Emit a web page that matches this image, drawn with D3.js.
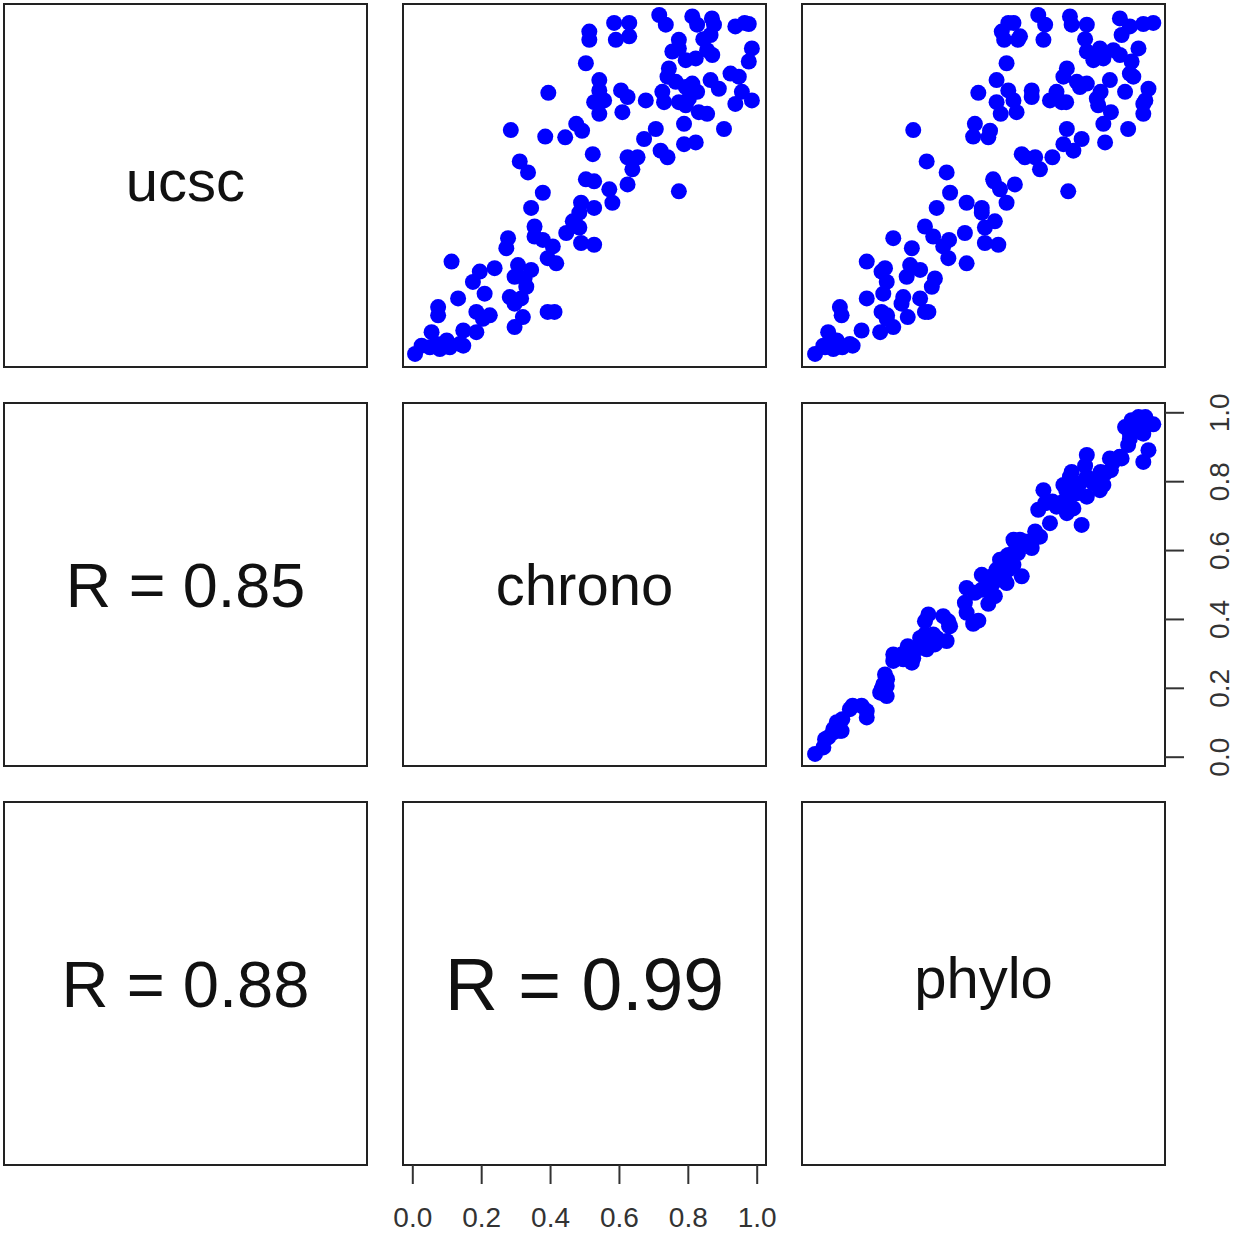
<!DOCTYPE html>
<html>
<head>
<meta charset="utf-8">
<script src="https://cdn.jsdelivr.net/npm/d3@7"></script>
<style>
  body { margin: 0; background: #fff; }
  text { font-family: "Liberation Sans", Arial, Helvetica, sans-serif; }
</style>
</head>
<body>
<div id="pairs"></div>
<script>
// pairs plot: 3 rank-scaled scores, scatter above diagonal, R below
const varNames = ["ucsc", "chrono", "phylo"];

const ucsc = [
  .995,.967,.991,.967,.967,.937,.962,.969,.947,.923,.972,.972,.923,.933,.855,.923,.889,.898,.864,.869,
  .893,.879,.898,.860,.840,.816,.801,.786,.796,.772,.806,.781,.825,.816,.772,.747,.737,.806,.776,.742,
  .747,.708,.776,.757,.713,.747,.772,.742,.742,.752,.733,.713,.708,.679,.659,.664,.679,.664,.635,.601,
  .582,.620,.625,.591,.582,.582,.547,.518,.512,.489,.503,.483,.450,.421,.435,.378,.333,.328,.769,.661,
  .642,.640,.570,.538,.479,.435,.450,.396,.381,.352,.362,.347,.318,.342,.323,.289,.274,.279,.250,.220,
  .260,.269,.235,.255,.230,.206,.186,.176,.157,.172,.172,.147,.123,.133,.123,.113,.133,.133,.118,.089,
  .074,.079,.074,.050,.040,.040,.011,.035,.030,.025,.030,.035,.925,.972,.985
];
const chrono = [
  .717,.736,.813,.827,.876,.866,.938,.977,.514,.514,.586,.630,.591,.630,.504,.774,.755,.774,.794,.823,
  .856,.871,.986,.977,.745,.741,.765,.794,.813,.827,.866,.890,.924,.948,.957,.986,.938,.543,.543,.528,
  .557,.543,.606,.625,.610,.678,.726,.731,.774,.803,.794,.832,.856,.476,.493,.707,.789,.905,.673,.721,
  .741,.789,.823,.524,.625,.654,.639,.504,.528,.572,.625,.774,.581,.485,.528,.485,.490,.528,.395,.286,
  .386,.444,.312,.336,.379,.345,.490,.466,.355,.355,.447,.278,.273,.379,.408,.393,.418,.114,.196,.176,
  .239,.307,.297,.345,.326,.331,.210,.283,.297,.316,.133,.075,.075,.186,.225,.205,.393,.413,.321,.297,
  .056,.148,.186,.100,.138,.071,.008,.027,.051,.080,.109,.148,.845,.965,.870
];
const phylo = [
  .659,.679,.751,.756,.800,.901,.925,.964,.553,.560,.572,.587,.600,.606,.567,.674,.800,.838,.819,.848,
  .877,.896,.950,.930,.742,.732,.771,.780,.800,.840,.867,.979,.925,.935,.911,.970,.964,.538,.572,.538,
  .587,.550,.640,.640,.596,.693,.712,.727,.740,.829,.833,.870,.964,.475,.519,.742,.848,.920,.785,.761,
  .700,.732,.853,.611,.620,.650,.664,.528,.530,.548,.591,.746,.567,.495,.495,.504,.504,.543,.485,.296,
  .470,.514,.335,.393,.403,.364,.451,.533,.330,.354,.446,.238,.292,.400,.383,.398,.451,.161,.204,.219,
  .214,.287,.277,.316,.359,.350,.209,.267,.262,.316,.161,.083,.088,.204,.220,.219,.330,.340,.280,.238,
  .049,.146,.200,.074,.112,.064,.011,.035,.040,.064,.090,.120,.795,.993,.896
];

// correlations printed in the lower panels
const corRows = [1, 2, 2];
const corCols = [0, 0, 1];
const corValues = [0.85, 0.88, 0.99];

const tickValues = [0, 0.2, 0.4, 0.6, 0.8, 1.0];

const series = [ucsc, chrono, phylo];
const W = 1236, H = 1235;
const origin = 4, step = 399, size = 363;

const svg = d3.select("#pairs").append("svg").attr("width", W).attr("height", H);

const x = d3.scaleLinear().domain([-0.027, 1.027]).range([0, size]);
const y = d3.scaleLinear().domain([-0.027, 1.027]).range([size, 0]);

// rough ink-centering, the way R puts the labels in the middle of the box
function inkDy(s) {
  const top = /[A-Zbdfhklt0-9]/.test(s) ? 0.72 : 0.52;
  const bottom = /[gjpqy]/.test(s) ? -0.21 : 0;
  return ((top + bottom) / 2).toFixed(3) + "em";
}

const cells = [];
for (let i = 0; i < 3; i++) for (let j = 0; j < 3; j++) cells.push({ i, j });

const panel = svg.selectAll("g.panel").data(cells).enter().append("g")
  .attr("class", "panel")
  .attr("transform", d => `translate(${origin + d.j * step},${origin + d.i * step})`);

// scatter above the diagonal: x = column variable, y = row variable
panel.filter(d => d.j > d.i).each(function(d) {
  const pts = series[d.j].map((v, k) => ({ xv: v, yv: series[d.i][k] }));
  d3.select(this).selectAll("circle").data(pts).enter().append("circle")
    .attr("cx", p => x(p.xv))
    .attr("cy", p => y(p.yv))
    .attr("r", 8)
    .attr("fill", "#0000ff");
});

// variable names on the diagonal
panel.filter(d => d.i === d.j).append("text")
  .attr("x", size / 2).attr("y", size / 2)
  .attr("dy", d => inkDy(varNames[d.i]))
  .attr("text-anchor", "middle")
  .attr("font-size", 58)
  .attr("fill", "#111")
  .text(d => varNames[d.i]);

// correlation text, size scaled by r
corValues.forEach((r, k) => {
  const label = "R = " + r.toFixed(2);
  svg.append("text")
    .attr("x", origin + corCols[k] * step + size / 2)
    .attr("y", origin + corRows[k] * step + size / 2)
    .attr("dy", inkDy(label))
    .attr("text-anchor", "middle")
    .attr("font-size", 74 * r)
    .attr("fill", "#111")
    .text(label);
});

// boxes on top
panel.append("rect")
  .attr("width", size).attr("height", size)
  .attr("fill", "none").attr("stroke", "#222").attr("stroke-width", 2);

// bottom axis under the chrono column
const gx = svg.append("g")
  .attr("transform", `translate(${origin + step},${origin + 2 * step + size})`)
  .call(d3.axisBottom(x).tickValues(tickValues).tickFormat(d3.format(".1f")).tickSize(19).tickPadding(23));
gx.select(".domain").remove();
gx.selectAll("line").attr("stroke", "#333").attr("stroke-width", 2);
gx.selectAll("text").attr("font-size", 28).attr("fill", "#333")
  .attr("font-family", "'Liberation Sans', Arial, sans-serif");

// right axis beside the chrono row, labels turned parallel to the axis
const gy = svg.append("g")
  .attr("transform", `translate(${origin + 2 * step + size},${origin + step})`)
  .call(d3.axisRight(y).tickValues(tickValues).tickFormat(d3.format(".1f")).tickSize(19));
gy.select(".domain").remove();
gy.selectAll("line").attr("stroke", "#333").attr("stroke-width", 2);
gy.selectAll("text")
  .attr("transform", "rotate(-90)")
  .attr("x", 0).attr("y", 54).attr("dy", "0.35em")
  .attr("text-anchor", "middle")
  .attr("font-size", 28).attr("fill", "#333")
  .attr("font-family", "'Liberation Sans', Arial, sans-serif");
</script>
</body>
</html>
